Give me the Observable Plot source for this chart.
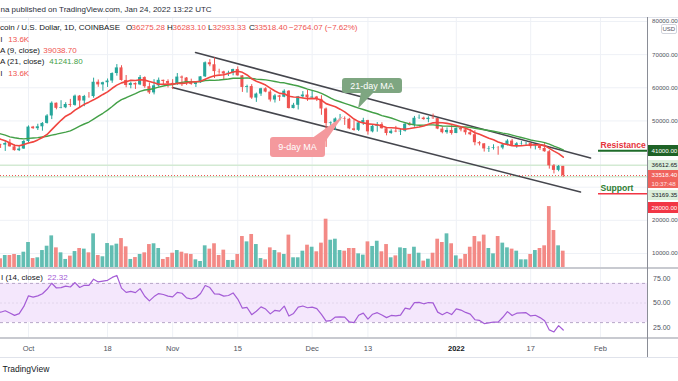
<!DOCTYPE html>
<html><head><meta charset="utf-8">
<script src="https://cdn.jsdelivr.net/npm/d3@7"></script>
<script src="https://cdn.jsdelivr.net/npm/@observablehq/plot@0.6"></script>
<style>
html,body{margin:0;padding:0;background:#fff;}
#wrap{position:relative;width:678px;height:381px;overflow:hidden;background:#fff;font-family:"Liberation Sans",Arial,sans-serif;color:#131722;}
#wrap > svg{position:absolute;left:0;}
.t{position:absolute;white-space:nowrap;}
.ln{position:absolute;}
.tag{position:absolute;left:647.5px;width:30.5px;font-size:6.2px;padding-left:4px;box-sizing:border-box;white-space:nowrap;}
</style></head><body><div id="wrap"></div>
<script>
// ---------------- data ----------------
const firstDay = "2021-09-25";
const open = [42820,42700,43180,42180,41030,41520,
43790,48140,47660,48230,49250,51490,55340,53800,53970,54960,54690,57480,56000,57370,57350,61670,60880,61530,62040,64300,66000,62210,60690,61300,60860,63080,60330,58460,60590,62250,61890,
61320,61010,63230,62930,61400,61000,61520,63300,67550,66940,64880,64800,64150,64400,65500,63600,60100,60360,56900,58100,59700,58700,56300,57550,57150,58960,53730,54720,57270,57800,
56950,57200,56500,53600,49200,49400,50600,50650,50500,47600,47150,49400,50100,46700,48370,48900,47640,46200,46880,46700,46900,49000,48600,50800,50850,50400,50800,50700,47540,46460,47120,
46200,47700,47300,46440,45830,43430,43080,41550,41680,41860,41820,42740,43920,42590,43100,43180,43200,42250,42370,41680,40700,36450,35070,36275.28];
const high = [42950,43900,44350,42780,42600,44100,
48500,48350,49000,49500,51900,55750,55400,56100,55500,56500,57800,57680,57700,58550,62900,62350,61700,62650,64500,67000,66650,63700,61750,61480,63700,63300,61450,62450,62950,62300,62400,
62450,64300,63550,63100,62600,61550,63350,67800,68500,69000,65600,65000,65000,65600,66300,63700,60800,60950,58400,59850,60000,59300,58000,57700,59400,59150,55300,57400,58850,59200,
59050,57400,57600,53900,49700,50900,51950,51200,50800,50100,49500,50800,50200,48700,49500,49450,47990,47350,48350,47550,49300,49550,51350,51800,51150,51250,52050,50750,48150,47900,48550,
47900,47950,47550,47500,47050,43750,43150,42300,42800,42250,43100,44350,44450,43450,43800,43500,43250,42700,42550,43500,41100,36850,36550,36283.10];
const low = [41700,40800,42100,40900,40750,41420,
43300,47450,47100,46900,49050,50400,53350,53650,53700,54100,54450,53900,54300,56850,56850,60150,58950,60100,61350,63500,62000,60000,59700,59500,60650,59850,58000,57850,60200,60750,59950,
59450,60700,60400,60700,60750,60100,61350,63100,66350,62800,64100,62300,63400,63600,63500,58600,58400,56500,55600,57400,58500,55700,55400,55900,57000,53600,53650,53300,56700,55900,
56500,55850,51700,42000,47750,47100,50050,48650,47350,46900,46800,48650,45700,46400,46600,47550,45500,45950,46450,45600,46650,48450,48100,50450,50200,49450,50450,47350,46100,46000,45700,
46150,46700,45700,45550,42500,42450,40600,40500,41200,39650,41300,42450,42300,41750,42650,42600,41550,41250,41100,40550,35450,34000,34650,32933.33];
const close = [42700,43180,42180,41030,41520,43790,
48140,47660,48230,49250,51490,55340,53800,53970,54960,54690,57480,56000,57370,57350,61670,60880,61530,62040,64300,66000,62210,60690,61300,60860,63080,60330,58460,60590,62250,61890,61320,
61010,63230,62930,61400,61000,61520,63300,67550,66940,64880,64800,64150,64400,65500,63600,60100,60360,56900,58100,59700,58700,56300,57550,57150,58960,53730,54720,57270,57800,56950,
57200,56500,53600,49200,49400,50600,50650,50500,47600,47150,49400,50100,46700,48370,48900,47640,46200,46880,46700,46900,49000,48600,50800,50850,50400,50800,50700,47540,46460,47120,46200,
47700,47300,46440,45830,43430,43080,41550,41680,41860,41820,42740,43920,42590,43100,43180,43200,42250,42370,41680,40700,36450,35070,36275.28,33518.40];
// volume, thousands of BTC
const volumeK = [7.6,10.2,10.2,11.0,10.2,12.8,
20.4,7.8,8.4,14.1,17.5,25.6,16.2,12.3,7.1,9.7,13.3,15.7,15.2,12.3,27.2,10.2,9.2,19.6,17.8,19.1,23.5,17.0,7.1,8.6,11.0,12.3,18.8,19.4,15.7,7.1,8.6,
12.0,14.1,12.8,11.5,11.0,6.8,5.5,17.8,15.2,19.4,10.2,14.4,6.3,6.3,11.0,25.1,20.9,26.7,18.8,7.8,6.8,16.2,14.1,12.3,11.0,26.2,8.4,8.4,13.6,18.3,
16.7,13.1,19.9,38.7,22.2,23.0,14.1,13.6,15.7,15.7,11.5,10.5,20.9,17.3,21.4,13.1,18.8,8.4,9.9,16.2,15.7,11.0,16.7,12.0,5.8,7.3,12.0,23.0,20.4,27.2,19.4,
9.9,7.3,11.0,16.7,25.1,20.9,26.2,15.7,11.5,25.1,19.9,16.2,15.2,13.6,6.8,6.8,11.0,14.1,15.7,17.8,48.6,29.8,17.8,13.6];
// closes before the visible window (Aug 20 - Sep 24), only feed the MA / RSI indicators
const warmupFirstDay = "2021-08-20";
const warmupClose = [49320,48870,49290,49530,47720,48960,46850,49090,48900,48810,46990,47130,
48850,49280,50030,49940,51790,52690,46860,46060,46400,44850,45170,46030,44960,47090,48150,47780,47270,48280,47260,42840,40690,43560,44880,42820];

const priceTicks = [80000,70000,60000,50000,20000,10000];
const gridPrices = [80000,70000,60000,50000,40000,30000,20000,10000];
const rsiTicks = [75,50,25];
const timeTicks = ["2021-10-01","2021-10-18","2021-11-01","2021-11-15","2021-12-01","2021-12-13","2022-01-01","2022-01-17","2022-02-01"];
const timeLabels = ["Oct","18","Nov","15","Dec","13","2022","17","Feb"];
const hLevels = [36612.65, 33169.35];
const resistance = 41000, support = 28000;
const upperChannel = [{date:"2021-11-05T22:00Z", price:70650},{date:"2022-01-29T21:00Z", price:38800}];
const lowerChannel = [{date:"2021-10-31T23:00Z", price:60085},{date:"2022-01-27T17:00Z", price:28550}];
const levelStart = "2022-01-31T14:00Z";
const legend = {o:"36275.28", h:"36283.10", l:"32933.33", c:"33518.40", chg:"−2764.07 (−7.62%)", vol:"13.6K", ma9:"39038.70", ma21:"41241.80", rsi:"22.32"};

// ---------------- colors ----------------
const UP = "#26a69a", DOWN = "#ef5350";
const VUP = "#62bdb2", VDOWN = "#f38a86";
const GRID = "#eef1f6";

// ---------------- prep ----------------
const W = 678, day = 864e5;
const oct1 = Date.UTC(2021, 9, 1);
const xDomain = [new Date(oct1 - (28 / 4.65) * day), new Date(oct1 + (619 / 4.65) * day)];
const candles = close.map((c, i) => ({date: d3.utcDay.offset(new Date(firstDay), i), open: open[i], high: high[i], low: low[i], close: c, vol: volumeK[i]}));
const series = warmupClose.map((c, i) => ({date: d3.utcDay.offset(new Date(warmupFirstDay), i), close: c})).concat(candles.map(d => ({date: d.date, close: d.close})));
function wilderRSI(values, n) {
  const out = new Array(values.length).fill(NaN);
  let ag = 0, al = 0;
  for (let i = 1; i < values.length; i++) {
    const ch = values[i] - values[i - 1];
    const g = ch > 0 ? ch : 0, l = ch < 0 ? -ch : 0;
    if (i <= n) { ag += g / n; al += l / n; } else { ag = (ag * (n - 1) + g) / n; al = (al * (n - 1) + l) / n; }
    if (i >= n) out[i] = al === 0 ? 100 : 100 - 100 / (1 + ag / al);
  }
  return out;
}
const rsiAll = wilderRSI(series.map(d => d.close), 14);
const rsiData = series.map((d, i) => ({date: d.date, rsi: rsiAll[i]})).filter(d => !isNaN(d.rsi));
const ticks = timeTicks.map((d, i) => ({date: new Date(d), label: timeLabels[i]}));
const isUp = d => d.close >= d.open;
const half = 0.33 * day, vhalf = 0.4 * day;

const wrap = document.getElementById("wrap");
const common = {width: W, marginLeft: 0, marginRight: 31, marginTop: 0, marginBottom: 0};
const fontStyle = {fontFamily: "Liberation Sans, Arial, sans-serif", background: "transparent"};
const yMain = {domain: [5468, 81207]};

// grid layer
const gridPlot = Plot.plot({...common, height: 251, x: {type: "utc", domain: xDomain, axis: null}, y: {...yMain, axis: null},
  style: {...fontStyle, background: "#fff"},
  marks: [
    Plot.ruleX(ticks, {x: "date", stroke: GRID}),
    Plot.ruleY(gridPrices, {stroke: GRID})
  ]});
// volume layer
const volPlot = Plot.plot({...common, height: 251, x: {type: "utc", domain: xDomain, axis: null}, y: {domain: [0, 197], axis: null},
  style: fontStyle,
  marks: [
    Plot.rect(candles, {x1: d => new Date(+d.date - vhalf), x2: d => new Date(+d.date + vhalf), y1: d => 0, y2: "vol", fill: d => isUp(d) ? VUP : VDOWN, clip: true})
  ]});
// price layer
const main = Plot.plot({...common, height: 251, x: {type: "utc", domain: xDomain, axis: null}, y: yMain,
  style: {...fontStyle, overflow: "visible"},
  marks: [
    Plot.ruleY(hLevels, {stroke: "#d3ead3", strokeWidth: 1.5}),
    Plot.ruleY([close[close.length - 1]], {stroke: DOWN, strokeDasharray: "1,2", strokeWidth: 1}),
    Plot.line(upperChannel, {x: d => new Date(d.date), y: "price", stroke: "#45464d", strokeWidth: 1.5}),
    Plot.line(lowerChannel, {x: d => new Date(d.date), y: "price", stroke: "#45464d", strokeWidth: 1.5}),
    Plot.ruleX(candles, {x: "date", y1: "low", y2: "high", stroke: d => isUp(d) ? UP : DOWN, strokeWidth: 1, clip: true}),
    Plot.rect(candles, {x1: d => new Date(+d.date - half), x2: d => new Date(+d.date + half), y1: "open", y2: "close", fill: d => isUp(d) ? UP : DOWN, clip: true}),
    Plot.lineY(series, Plot.windowY({k: 21, anchor: "end"}, {x: "date", y: "close", stroke: "#43a047", strokeWidth: 1.4, clip: true})),
    Plot.lineY(series, Plot.windowY({k: 9, anchor: "end"}, {x: "date", y: "close", stroke: "#f0453f", strokeWidth: 1.6, clip: true})),
    Plot.ruleY([resistance], {x1: () => new Date(levelStart), x2: () => xDomain[1], stroke: "#1e6b2a", strokeWidth: 1.8}),
    Plot.ruleY([support], {x1: () => new Date(levelStart), x2: () => xDomain[1], stroke: "#f23645", strokeWidth: 1.5}),
    Plot.text(["Resistance"], {x: () => new Date(levelStart), y: () => resistance, text: d => d, textAnchor: "start", lineAnchor: "bottom", dx: 2, dy: -2.5, fill: "#e5333b", fontWeight: "bold", fontSize: 8.6}),
    Plot.text(["Support"], {x: () => new Date(levelStart), y: () => support, text: d => d, textAnchor: "start", lineAnchor: "bottom", dx: 2, dy: -3, fill: "#2e7d32", fontWeight: "bold", fontSize: 8.6}),
    Plot.axisY({ticks: priceTicks, anchor: "right", tickSize: 0, tickPadding: 4.5, tickFormat: d => d.toFixed(2), fontSize: 6.2, color: "#50535e", label: null})
  ]});
// RSI + time axis
const rsiPlot = Plot.plot({...common, height: 89, marginBottom: 19, x: {type: "utc", domain: xDomain, axis: null}, y: {domain: [13.8, 85.2]},
  style: fontStyle,
  marks: [
    Plot.ruleX(ticks, {x: "date", stroke: GRID}),
    Plot.rect([0], {x1: () => xDomain[0], x2: () => xDomain[1], y1: () => 30, y2: () => 70, fill: "#f4e7fc"}),
    Plot.ruleY([50], {stroke: "#e2d6ec", strokeDasharray: "2,2"}),
    Plot.ruleY([70, 30], {stroke: "#b7a6c8", strokeDasharray: "3,3"}),
    Plot.line(rsiData, {x: "date", y: "rsi", stroke: "#a45cd6", strokeWidth: 1.2, clip: true}),
    Plot.axisY({ticks: rsiTicks, anchor: "right", tickSize: 0, tickPadding: 5.5, tickFormat: d => d.toFixed(2), fontSize: 7, color: "#50535e", label: null}),
    Plot.text(ticks.filter(d => d.label !== "2022"), {x: "date", text: "label", frameAnchor: "bottom", dy: 10, lineAnchor: "middle", fontSize: 7.5, fill: "#50535e"}),
    Plot.text(ticks.filter(d => d.label === "2022"), {x: "date", text: "label", frameAnchor: "bottom", dy: 10, lineAnchor: "middle", fontSize: 7.5, fill: "#131722", fontWeight: "bold"})
  ]});

[gridPlot, volPlot, main].forEach(p => { p.style.top = "17px"; wrap.appendChild(p); });
rsiPlot.style.top = "268px"; wrap.appendChild(rsiPlot);

// chrome lines
function line(l, t, w, h, c) { const d = document.createElement("div"); d.className = "ln"; d.style.cssText += `left:${l}px;top:${t}px;width:${w}px;height:${h}px;background:${c}`; wrap.appendChild(d); }
line(0, 16.5, W, 1, "#e0e3eb");
line(0, 267, W, 2, "#c8cad0");
line(0, 337, W, 2, "#c8cad0");
line(0, 356.5, W, 1, "#e0e3eb");
line(646.5, 17, 1, 340, "#8a8d96");

// text helper
function txt(s, left, cy, size, color, weight, parent) {
  const d = document.createElement("div"); d.className = "t"; d.textContent = s;
  d.style.cssText += `left:${left}px;top:${cy - size * 0.6}px;font-size:${size}px;line-height:${size * 1.2}px;color:${color};font-weight:${weight || "normal"}`;
  (parent || wrap).appendChild(d); return d;
}
const DARK = "#131722", RED = "#ef5350", GREEN = "#43a047";
// legend lines: only the part visible in the picture (the snapshot crops their left ends)
txt("na published on TradingView.com, Jan 24, 2022 13:22 UTC", 0.5, 10, 8, "#2a2e39");
txt("coin / U.S. Dollar, 1D, COINBASE", 0, 28, 8, DARK);
txt("O", 126, 28, 8, DARK); txt(legend.o, 131.5, 28, 8, RED);
txt("H", 167, 28, 8, DARK); txt(legend.h, 172.5, 28, 8, RED);
txt("L", 208, 28, 8, DARK); txt(legend.l, 212.5, 28, 8, RED);
txt("C", 249, 28, 8, DARK); txt(legend.c, 254, 28, 8, RED);
txt(legend.chg, 289, 28, 8, RED);
txt("l", 0.5, 40, 8, DARK); txt(legend.vol, 8.3, 40, 8, RED);
txt("A (9, close)", 0, 51, 8, DARK); txt(legend.ma9, 43.3, 51, 8, RED);
txt("A (21, close)", 0, 62, 8, DARK); txt(legend.ma21, 49.3, 62, 8, GREEN);
txt("l", 0.5, 73.5, 8, DARK); txt(legend.vol, 8.3, 73.5, 8, RED);
txt("I (14, close)", 1, 278, 8, DARK); txt(legend.rsi, 47.6, 278, 8, "#a45cd6");
txt("TradingView", 2.5, 369, 8.5, DARK);

// USD badge
const usd = txt("USD", 660.5, 28.5, 6, "#50535e");
usd.style.border = "1px solid #d1d4dc"; usd.style.borderRadius = "2px"; usd.style.padding = "0 1px"; usd.style.lineHeight = "8px"; usd.style.top = "24px";

// price tags on the right axis
const ys = main.scale("y");
function tag(lines, price, shift, bg, fg, h) {
  const cy = 17 + ys.apply(price) + shift;
  const d = document.createElement("div"); d.className = "tag";
  d.style.cssText += `top:${cy - h / 2}px;height:${h}px;background:${bg};color:${fg};line-height:${h / lines.length}px`;
  d.innerHTML = lines.map(s => `<div>${s}</div>`).join("");
  wrap.appendChild(d);
}
tag(["41000.00"], resistance, 0.5, "#1e6226", "#fff", 11);
tag(["36612.65"], hLevels[0], 0, "#dcefdc", DARK, 10);
tag(["33518.40", "<span style='color:#ffe3e3'>10:37:48</span>"], close[close.length - 1], 4, "#f0625c", "#fff", 18.5);
tag(["33169.35"], hLevels[1], 19, "#dcefdc", DARK, 10.5);
tag(["28000.00"], support, 14, "#f23645", "#fff", 11);

// callouts
const ns = "http://www.w3.org/2000/svg";
const ov = document.createElementNS(ns, "svg");
ov.setAttribute("width", W); ov.setAttribute("height", 381);
ov.style.cssText = "position:absolute;left:0;top:0;pointer-events:none";
ov.innerHTML = `
<polygon points="361,92 374,92 358,108.5" fill="#7ea681"/>
<rect x="342" y="78" width="60" height="15" rx="3" fill="#7ea681"/>
<text x="372" y="88.7" text-anchor="middle" font-size="9" fill="#fff" font-family="Liberation Sans, Arial, sans-serif">21-day MA</text>
<polygon points="313,137.5 325,142 343,116" fill="#f4999d"/>
<rect x="270" y="137" width="55" height="20" rx="3" fill="#f4999d"/>
<text x="297.5" y="150.2" text-anchor="middle" font-size="9" fill="#fff" font-family="Liberation Sans, Arial, sans-serif">9-day MA</text>`;
wrap.appendChild(ov);
</script></body></html>
